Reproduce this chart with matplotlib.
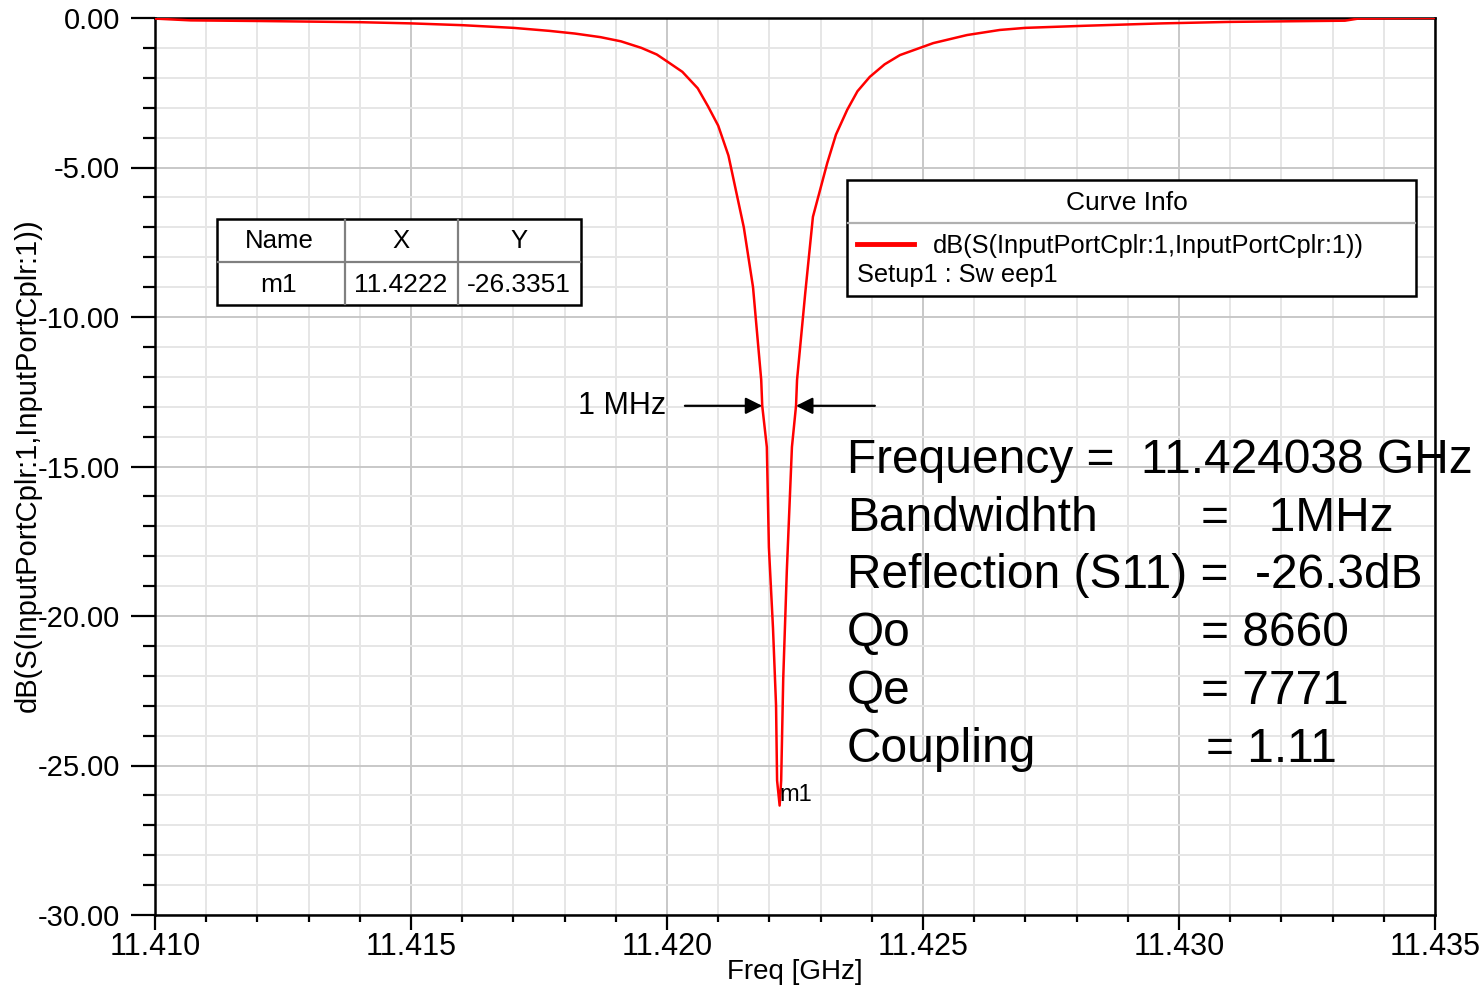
import matplotlib.pyplot as plt
from matplotlib.patches import Rectangle
from matplotlib.lines import Line2D
from matplotlib.ticker import MultipleLocator, FormatStrFormatter

plt.rcParams['font.family'] = ['Liberation Sans', 'DejaVu Sans']

# --------------------------- data ---------------------------#
freq_ghz = [11.4100, 11.4107, 11.4120, 11.4140, 11.4150, 11.4160, 11.4170, 11.4177,
            11.4182, 11.4187, 11.4191, 11.4195, 11.4198, 11.4200, 11.4203, 11.4206,
            11.4208, 11.4210, 11.4212, 11.4213, 11.4215, 11.42168, 11.42184, 11.42186,
            11.42195, 11.42199, 11.42207, 11.42213, 11.42215, 11.42220, 11.42223,
            11.42227, 11.42234, 11.42244, 11.42252, 11.42254, 11.42270, 11.42285,
            11.42313, 11.42330, 11.42352, 11.42372, 11.42396, 11.42425, 11.42455,
            11.42520, 11.42586, 11.42650, 11.42700, 11.42816, 11.42967, 11.4310,
            11.43324, 11.4335, 11.4350]
s11_db = [-0.02, -0.08, -0.10, -0.14, -0.18, -0.24, -0.33, -0.43,
          -0.52, -0.64, -0.78, -1.00, -1.22, -1.45, -1.80, -2.35,
          -2.95, -3.60, -4.60, -5.40, -7.00, -9.00, -12.10, -12.97,
          -14.35, -17.70, -20.40, -23.00, -25.50, -26.34, -25.50,
          -22.10, -18.50, -14.35, -12.97, -12.10, -9.20, -6.65,
          -4.85, -3.90, -3.07, -2.45, -1.97, -1.55, -1.24,
          -0.84, -0.57, -0.40, -0.33, -0.26, -0.18, -0.13,
          -0.09, -0.02, 0.0]

marker_name = 'm1'
marker_x = 11.4222
marker_y = -26.3351

curve_name = 'dB(S(InputPortCplr:1,InputPortCplr:1))'
sweep_name = 'Setup1 : Sw eep1'

W, H = 1483, 990


def fx(px):
    return px / W


def fy(py):
    return 1 - py / H


fig = plt.figure(figsize=(W / 100, H / 100), dpi=100)
ax = fig.add_axes([fx(155), fy(915), fx(1435) - fx(155), fy(18) - fy(915)])

ax.plot(freq_ghz, s11_db, color='#ff0000', lw=1.8, zorder=3)

ax.set_xlim(11.410, 11.435)
ax.set_ylim(-30, 0)
ax.xaxis.set_major_locator(MultipleLocator(0.005))
ax.xaxis.set_minor_locator(MultipleLocator(0.001))
ax.yaxis.set_major_locator(MultipleLocator(5))
ax.yaxis.set_minor_locator(MultipleLocator(1))
ax.xaxis.set_major_formatter(FormatStrFormatter('%.3f'))
ax.yaxis.set_major_formatter(FormatStrFormatter('%.2f'))

ax.grid(which='major', color='#c8c8c8', lw=1.4, zorder=1)
ax.grid(which='minor', color='#e6e6e6', lw=1.4, zorder=0)
ax.set_axisbelow(True)

ax.tick_params(axis='y', which='major', direction='out', length=17, width=1.6,
               labelsize=21, pad=8)
ax.tick_params(axis='y', which='minor', direction='out', length=9, width=1.6)
ax.tick_params(axis='x', which='major', direction='out', length=11, width=1.6,
               labelsize=22, pad=1)
ax.tick_params(axis='x', which='minor', direction='out', length=5, width=1.6)
for s in ax.spines.values():
    s.set_linewidth(1.8)
    s.set_color('black')

ax.set_xlabel('Freq [GHz]', fontsize=20, labelpad=0)
ax.set_ylabel(curve_name, fontsize=21, labelpad=0)
ax.yaxis.set_label_coords(-(155 - 28) / 1280, (915 - 465) / 897)
ax.xaxis.set_label_coords(0.5, -(972 - 915) / 897)
ax.xaxis.label.set_va('center')
ax.yaxis.label.set_va('center')

# marker label
ax.text(marker_x, marker_y + 0.35, marker_name, fontsize=17, ha='left', va='center')

# 1 MHz arrows
ax.annotate('', xy=(11.42186, -12.97), xytext=(11.42035, -12.97),
            arrowprops=dict(arrowstyle='-|>', color='black', lw=1.6,
                            mutation_scale=25, shrinkA=0, shrinkB=0))
ax.annotate('', xy=(11.42252, -12.97), xytext=(11.42406, -12.97),
            arrowprops=dict(arrowstyle='-|>', color='black', lw=1.6,
                            mutation_scale=25, shrinkA=0, shrinkB=0))
ax.text(11.41998, -12.97, '1 MHz', fontsize=22, ha='right', va='center')

# ------------------------------ marker table ------------------------------#
tf = fig.transFigure
fig.patches.append(Rectangle((fx(217), fy(305)), fx(581) - fx(217), fy(219) - fy(305),
                             transform=tf, facecolor='white', edgecolor='black', lw=1.8,
                             zorder=5))
for xp in [345, 458]:
    fig.lines.append(Line2D([fx(xp), fx(xp)], [fy(220), fy(304)], transform=tf,
                            color='#808080', lw=1.6, zorder=6))
fig.lines.append(Line2D([fx(218), fx(580)], [fy(262), fy(262)], transform=tf,
                        color='#808080', lw=1.6, zorder=6))
cols = [279, 401, 519]
for xp, t in zip(cols, ['Name', 'X', 'Y']):
    fig.text(fx(xp), fy(241), t, fontsize=18.5, ha='center', va='center', zorder=7)
for xp, t in zip(cols, [marker_name, '%.4f' % marker_x, '%.4f' % marker_y]):
    fig.text(fx(xp), fy(285), t, fontsize=19, ha='center', va='center', zorder=7)

# ------------------------------ curve info ------------------------------#
fig.patches.append(Rectangle((fx(847), fy(296)), fx(1416) - fx(847), fy(180) - fy(296),
                             transform=tf, facecolor='white', edgecolor='black', lw=1.8,
                             zorder=5))
fig.lines.append(Line2D([fx(848), fx(1415)], [fy(223), fy(223)], transform=tf,
                        color='#b0b0b0', lw=1.6, zorder=6))
fig.text(fx(1127), fy(203), 'Curve Info', fontsize=19, ha='center', va='center', zorder=7)
fig.lines.append(Line2D([fx(857), fx(914)], [fy(244), fy(244)], transform=tf,
                        color='#ff0000', lw=3.5, zorder=6))
fig.text(fx(933), fy(246), curve_name, fontsize=18.3, ha='left', va='center', zorder=7)
fig.text(fx(857), fy(275), sweep_name, fontsize=18.3, ha='left', va='center', zorder=7)

# ------------------------------ results text ------------------------------#
big = 34.5
rows = [
    ('Frequency =  11.424038 GHz', None, None),
    ('Bandwidhth', '=   1MHz', 1201),
    ('Reflection (S11) =  -26.3dB', None, None),
    ('Qo', '= 8660', 1201),
    ('Qe', '= 7771', 1201),
    ('Coupling', '= 1.11', 1206),
]
baselines = [473, 531, 588, 646, 704, 762]
for (left, right, rx), yb in zip(rows, baselines):
    fig.text(fx(847), fy(yb), left, fontsize=big, ha='left', va='baseline')
    if right:
        fig.text(fx(rx), fy(yb), right, fontsize=big, ha='left', va='baseline')

fig.savefig('out.png', dpi=100)
